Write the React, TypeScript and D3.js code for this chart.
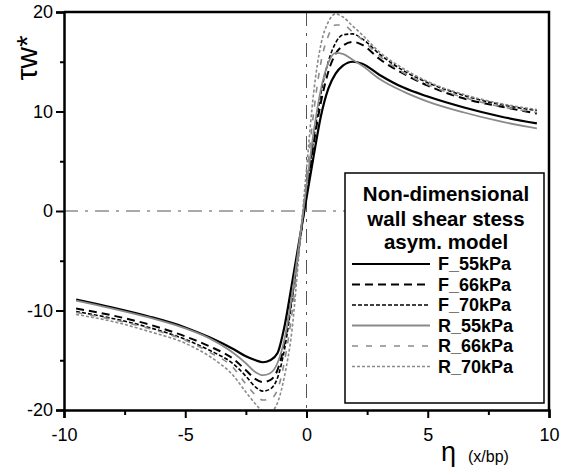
import React, { useEffect, useRef } from 'react';
import * as d3 from 'd3';

// eta grid (x/bp) shared by every run
const eta = [-9.5, -8, -6.5, -5, -4, -3, -2.5, -2.1, -1.8, -1.5, -1.2, -0.9, -0.6, -0.3, 0, 0.3, 0.6, 0.9, 1.2, 1.5, 1.9, 2.3, 3, 4, 5, 6.5, 8, 9.5];

const f55 = [-8.9, -9.7, -10.6, -11.7, -12.7, -13.9, -14.6, -15.0, -15.2, -15.0, -14.3, -11.5, -7.3, -3.0, 1.3, 5.6, 9.6, 12.3, 13.8, 14.6, 15.0, 14.8, 13.7, 12.4, 11.5, 10.4, 9.5, 8.8];
const f66 = [-9.8, -10.5, -11.4, -12.6, -13.6, -14.9, -16.0, -16.9, -17.2, -17.0, -16.0, -13.2, -8.6, -3.5, 1.8, 6.8, 11.0, 14.0, 15.8, 16.6, 17.0, 16.7, 15.3, 13.8, 12.6, 11.3, 10.5, 9.8];
const f70 = [-10.1, -10.8, -11.7, -12.9, -14.0, -15.4, -16.6, -17.7, -18.1, -17.9, -16.8, -13.8, -9.0, -3.6, 2.0, 7.3, 11.9, 15.0, 16.9, 17.7, 17.8, 17.3, 15.8, 14.1, 12.9, 11.6, 10.7, 10.1];
const r55 = [-9.0, -9.8, -10.7, -11.8, -12.8, -14.3, -15.3, -16.2, -16.5, -16.3, -15.3, -12.8, -8.5, -3.2, 2.5, 8.0, 12.3, 14.9, 15.9, 15.8, 15.2, 14.6, 13.3, 12.0, 11.0, 9.9, 9.0, 8.3];
const r66 = [-10.2, -10.9, -11.8, -13.0, -14.2, -15.8, -17.4, -18.5, -19.0, -18.9, -18.0, -15.0, -10.3, -3.8, 3.2, 10.0, 15.0, 17.6, 18.7, 18.7, 18.0, 17.2, 15.6, 13.9, 12.7, 11.4, 10.5, 9.9];
const r70 = [-10.4, -11.1, -12.1, -13.3, -14.6, -16.6, -18.2, -19.4, -20.1, -20.2, -19.3, -16.5, -12.0, -4.0, 4.2, 12.0, 16.8, 19.0, 19.8, 19.5, 18.6, 17.7, 16.0, 14.3, 13.0, 11.7, 10.8, 10.2];

const seriesNames = ['F_55kPa', 'F_66kPa', 'F_70kPa', 'R_55kPa', 'R_66kPa', 'R_70kPa'];
const seriesValues = [f55, f66, f70, r55, r66, r70];

const xTicks = [-10, -5, 0, 5, 10];
const yTicks = [-20, -10, 0, 10, 20];
const legendTitle = ['Non-dimensional', 'wall shear stess', 'asym. model'];

const GREY = '#8a8a8a';
const styles = [
  { color: '#000', width: 2.2, dash: null },
  { color: '#000', width: 2, dash: '8,5' },
  { color: '#000', width: 1.6, dash: '4,2' },
  { color: GREY, width: 1.8, dash: null },
  { color: GREY, width: 1.6, dash: '6,8' },
  { color: GREY, width: 1.6, dash: '3,2' },
];

const FONT = 'Arial, "Liberation Sans", sans-serif';

const App: React.FC = () => {
  const ref = useRef<SVGSVGElement>(null);

  useEffect(() => {
    const svg = d3.select(ref.current);
    svg.selectAll('*').remove();

    const x = d3.scaleLinear().domain([-10, 10]).range([64, 549]);
    const y = d3.scaleLinear().domain([-20, 20]).range([410, 12]);

    svg.append('defs').append('clipPath').attr('id', 'plot')
      .append('rect')
      .attr('x', x(-10)).attr('y', y(20))
      .attr('width', x(10) - x(-10)).attr('height', y(-20) - y(20));

    // zero reference lines
    svg.append('line')
      .attr('x1', x(-10)).attr('x2', x(10)).attr('y1', y(0)).attr('y2', y(0))
      .attr('stroke', '#555').attr('stroke-width', 1).attr('stroke-dasharray', '14,7,3,7');
    svg.append('line')
      .attr('x1', x(0)).attr('x2', x(0)).attr('y1', y(20)).attr('y2', y(-20))
      .attr('stroke', '#555').attr('stroke-width', 1).attr('stroke-dasharray', '14,7,3,7');

    // curves
    const line = d3.line<number>()
      .x((_, i) => x(eta[i]))
      .y(d => y(d))
      .curve(d3.curveMonotoneX);

    const g = svg.append('g').attr('clip-path', 'url(#plot)');
    seriesValues.forEach((vals, i) => {
      const st = styles[i];
      g.append('path')
        .attr('d', line(vals))
        .attr('fill', 'none')
        .attr('stroke', st.color)
        .attr('stroke-width', st.width)
        .attr('stroke-dasharray', st.dash);
    });

    // axes (plain hyphen minus like the original)
    const fmt = (d: any) => String(d);
    const yAxis = svg.append('g').attr('transform', `translate(${x(-10)},0)`)
      .call(d3.axisLeft(y).tickValues(yTicks).tickSize(8).tickPadding(3).tickFormat(fmt));
    svg.append('g').attr('transform', `translate(${x(-10)},0)`)
      .call(d3.axisLeft(y).tickValues([-15, -5, 5, 15]).tickSize(4).tickFormat(() => ''))
      .call(a => a.select('.domain').remove());
    const xAxis = svg.append('g').attr('transform', `translate(0,${y(-20)})`)
      .call(d3.axisBottom(x).tickValues(xTicks).tickSize(8).tickPadding(10).tickFormat(fmt));
    svg.append('g').attr('transform', `translate(0,${y(-20)})`)
      .call(d3.axisBottom(x).tickValues([-7.5, -2.5, 2.5, 7.5]).tickSize(5).tickFormat(() => ''))
      .call(a => a.select('.domain').remove());

    [yAxis, xAxis].forEach(a => {
      a.select('.domain').attr('stroke-width', 2.5);
      a.selectAll('text').attr('font-size', 18).attr('font-family', FONT).attr('fill', '#000');
    });
    svg.selectAll('.tick line').attr('stroke-width', 2);

    // frame top and right
    svg.append('path')
      .attr('d', `M${x(-10)},${y(20)}H${x(10)}V${y(-20)}`)
      .attr('fill', 'none').attr('stroke', '#000').attr('stroke-width', 2.5);

    // axis titles
    svg.append('text')
      .attr('transform', 'translate(37,58) rotate(-90)')
      .attr('text-anchor', 'middle')
      .attr('font-family', FONT).attr('font-size', 30)
      .text('τw*');
    svg.append('text')
      .attr('x', 441).attr('y', 461)
      .attr('font-family', FONT).attr('font-size', 27)
      .text('η');
    svg.append('text')
      .attr('x', 468).attr('y', 462)
      .attr('font-family', FONT).attr('font-size', 16)
      .text('(x/bp)');

    // legend
    const lg = svg.append('g');
    lg.append('rect')
      .attr('x', 345).attr('y', 173).attr('width', 199).attr('height', 230)
      .attr('fill', '#fff').attr('stroke', '#000').attr('stroke-width', 1.5);
    lg.selectAll('text.title')
      .data(legendTitle)
      .join('text')
      .attr('class', 'title')
      .attr('x', 446).attr('y', (_, i) => [201, 226, 249][i])
      .attr('text-anchor', 'middle')
      .attr('font-family', FONT).attr('font-weight', 'bold').attr('font-size', 20.5)
      .text(d => d);
    const items = lg.selectAll('g.item')
      .data(seriesNames)
      .join('g')
      .attr('class', 'item')
      .attr('transform', (_, i) => `translate(0,${270 + i * 20.5})`);
    items.append('line')
      .attr('x1', 352).attr('x2', 430).attr('y1', -6).attr('y2', -6)
      .attr('stroke', (_, i) => styles[i].color)
      .attr('stroke-width', (_, i) => styles[i].width)
      .attr('stroke-dasharray', (_, i) => styles[i].dash);
    items.append('text')
      .attr('x', 438).attr('y', 0)
      .attr('font-family', FONT).attr('font-weight', 'bold').attr('font-size', 18)
      .text(d => d);
  }, []);

  return (
    <svg ref={ref} width={577} height={467}
      style={{ position: 'absolute', left: 0, top: 0, background: '#fff' }} />
  );
};

export default App;
